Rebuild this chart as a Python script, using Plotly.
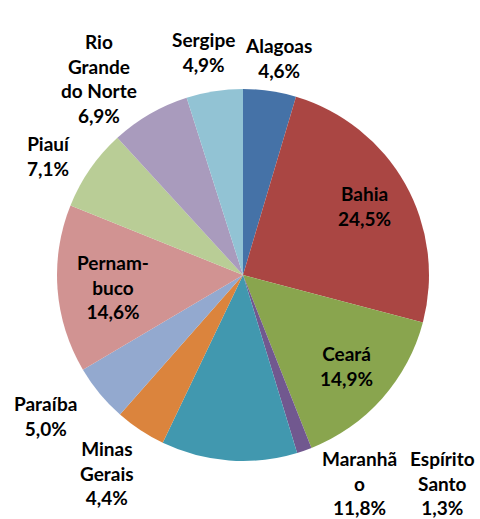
import plotly.graph_objects as go

W, H = 480, 519

states = ["Alagoas", "Bahia", "Ceará", "Espírito Santo", "Maranhão", "Minas Gerais",
          "Paraíba", "Pernambuco", "Piauí", "Rio Grande do Norte", "Sergipe"]
shares = [4.6, 24.5, 14.9, 1.3, 11.8, 4.4, 5.0, 14.6, 7.1, 6.9, 4.9]
label_lines = ["Alagoas", "Bahia", "Ceará", "Espírito<br>Santo", "Maranhã<br>o", "Minas<br>Gerais",
               "Paraíba", "Pernam-<br>buco", "Piauí", "Rio<br>Grande<br>do Norte", "Sergipe"]
colors = ["#4572A7", "#AA4643", "#89A54E", "#71588F", "#4198AF", "#DB843D",
          "#93A9CF", "#D19392", "#B9CD96", "#A99BBD", "#92C3D4"]

# label centres in pixels (x from left, y from top)
label_px = [(278, 58), (364, 206), (346, 366), (442, 483), (359, 483), (107, 473),
            (45, 416), (113, 287), (48, 156), (99, 78), (203, 52)]

cx, cy, r = 243, 275, 186

fig = go.Figure(go.Pie(
    labels=states, values=shares, sort=False, direction="clockwise", rotation=0,
    marker=dict(colors=colors, line=dict(width=0)),
    textinfo="none", hoverinfo="label+percent", showlegend=False,
    domain=dict(x=[(cx - r) / W, (cx + r) / W], y=[1 - (cy + r) / H, 1 - (cy - r) / H]),
))

for txt, v, (px, py) in zip(label_lines, shares, label_px):
    fig.add_annotation(
        x=px / W, y=1 - py / H, xref="paper", yref="paper",
        text=f"{txt}<br>{v:.1f}%".replace(".", ","),
        showarrow=False, xanchor="center", yanchor="middle", align="center",
        font=dict(family="Lato", size=19, color="black", weight="bold"),
    )

fig.update_layout(width=W, height=H, margin=dict(l=0, r=0, t=0, b=0),
                  paper_bgcolor="white", plot_bgcolor="white")
fig.write_html("out.html", config={"displayModeBar": False},
               post_script="document.body.style.margin='0';document.body.style.overflow='hidden';")
